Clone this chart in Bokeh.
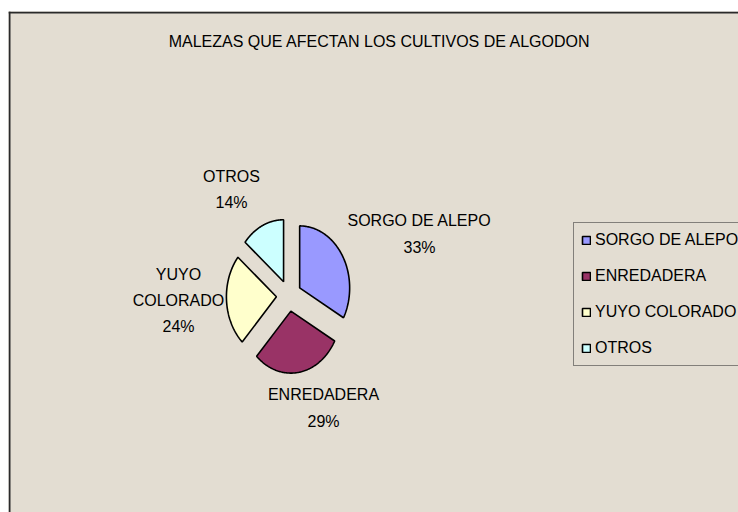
import numpy as np
from bokeh.plotting import figure
from bokeh.models import ColumnDataSource, Range1d, Legend, LegendItem
from bokeh.core.properties import value
from bokeh.embed import file_html
from bokeh.resources import INLINE

# ---- data ----
TITLE = "MALEZAS QUE AFECTAN LOS CULTIVOS DE ALGODON"
categories = ["SORGO DE ALEPO", "ENREDADERA", "YUYO COLORADO", "OTROS"]
values = [33, 29, 24, 14]

# ---- styles / layout ----
colors = ["#9999FF", "#993366", "#FFFFCC", "#CCFFFF"]
BG = "#E3DDD2"
FONT = "Liberation Sans"
W, H = 738, 512
LEFT, TOP = 8, 11
FW, FH = W - LEFT, H - TOP
CX, CY = 280.4, 284.3          # pie centre (px from frame top-left)
RX, RY = 50, 62                # pie radii (px)
EXPLODE = 0.25                 # explode fraction of radius
label_offsets = [(130.6, -61.8), (34.6, 112.2), (-110.4, 4.7), (-57.4, -106.3)]
label_wrap = [False, False, True, False]
TITLE_POS = (371.5, 29.5)

vals = np.array(values, dtype=float)
fracs = vals / vals.sum()
ends = 90 - np.cumsum(fracs) * 360
starts = ends + fracs * 360

xs, ys = [], []
for s, e in zip(starts, ends):
    mid = np.radians((s + e) / 2)
    ox = EXPLODE * RX * np.cos(mid)
    oy = -EXPLODE * RY * np.sin(mid)
    t = np.radians(np.linspace(s, e, 120))
    cx, cy = CX + ox, CY + oy
    xs.append([cx] + list(cx + RX * np.cos(t)))
    ys.append([cy] + list(cy - RY * np.sin(t)))

src = ColumnDataSource(dict(xs=xs, ys=ys, color=colors, name=categories))

p = figure(width=W, height=H, x_range=Range1d(0, FW), y_range=Range1d(FH, 0),
           x_axis_type=None, y_axis_type=None, output_backend="svg",
           toolbar_location=None, min_border=0, min_border_top=TOP, min_border_left=LEFT)
p.grid.visible = False
p.outline_line_color = None
p.background_fill_color = BG
p.border_fill_color = "white"

# chart border (top and left edges visible in reference)
p.segment(x0=[1, 0], y0=[0, 1], x1=[1, FW], y1=[FH, 1], line_color="#2a2a2a", line_width=2)

r = p.patches("xs", "ys", fill_color="color", line_color="black", line_width=1.6, source=src)

# title
p.text(x=[TITLE_POS[0]], y=[TITLE_POS[1]], text=[TITLE], text_align="center",
       text_baseline="middle", text_font=value(FONT), text_font_size="16px", text_color="black")

# data labels
lab_x = [CX + dx for dx, dy in label_offsets]
lab_y = [CY + dy for dx, dy in label_offsets]
lab_t = []
for c, f, w in zip(categories, fracs, label_wrap):
    name = c.replace(" ", "\n") if w else c
    lab_t.append(f"{name}\n{round(f * 100):.0f}%")
p.text(x=lab_x, y=lab_y, text=lab_t, text_align="center", text_baseline="middle",
       text_font=value(FONT), text_font_size="16px", text_color="black", text_line_height=1.55)

legend = Legend(items=[LegendItem(label=c, renderers=[r], index=i) for i, c in enumerate(categories)],
                location=(565, 146), margin=0, padding=7, spacing=16, label_height=20,
                glyph_width=10, glyph_height=10, label_standoff=4,
                label_text_font=FONT, label_text_font_size="16px", label_text_color="black",
                border_line_color="#222222", border_line_width=1.5, background_fill_alpha=0)
p.add_layout(legend)

open("out.html", "w").write(file_html(p, INLINE))
